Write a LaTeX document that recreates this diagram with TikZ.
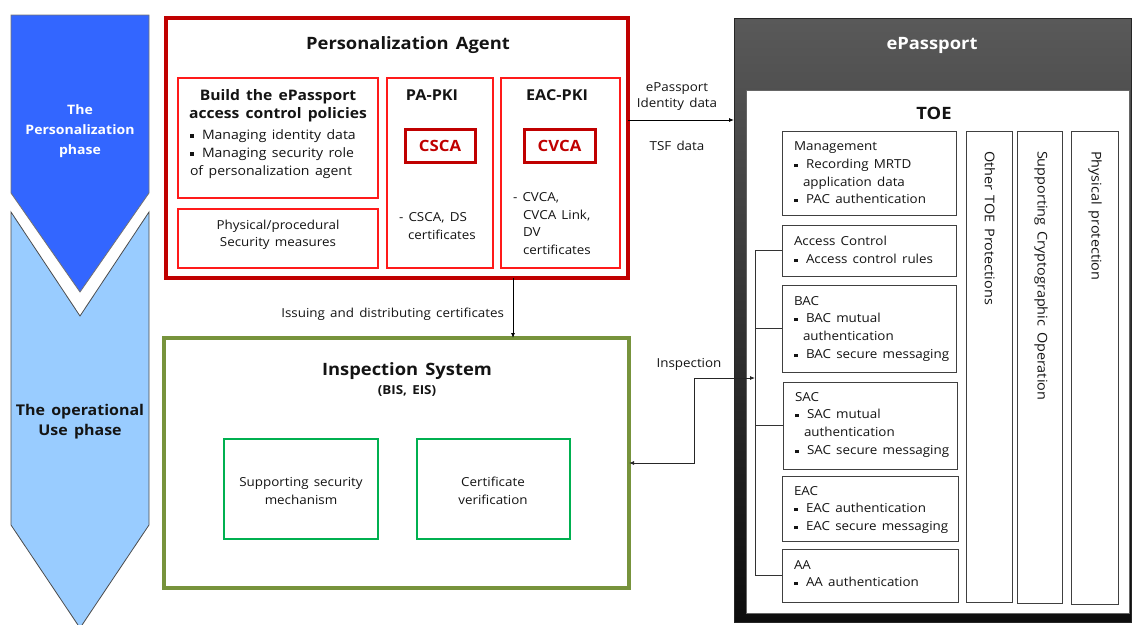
\documentclass[tikz,border=0pt]{standalone}
\usepackage{fontspec}
\setmainfont{Open Sans}[FakeStretch=1.08,WordSpace=1.5]
\usetikzlibrary{arrows.meta}
\definecolor{pared}{HTML}{C00000}
\definecolor{brred}{HTML}{FF1A1A}
\definecolor{olivegr}{HTML}{77933C}
\definecolor{ingreen}{HTML}{00B050}
\definecolor{dblue}{HTML}{3366FF}
\definecolor{lblue}{HTML}{99CCFF}
\definecolor{ink}{HTML}{141414}
\newcommand\bul{\makebox[12pt][l]{\rule[1.5pt]{3.5pt}{3.5pt}}}
\newcommand\bx[6]{\node[#2,anchor=north west,minimum width={#5-#3},minimum height={#6-#4}] (#1) at (#3,#4) {};}
\begin{document}
\begin{tikzpicture}[x=1pt,y=-1pt,
  every node/.style={inner sep=0pt,outer sep=0pt},
  t/.style={font=\fontsize{12.4}{14}\selectfont,text=ink,anchor=base west},
  tc/.style={font=\fontsize{12.4}{14}\selectfont,text=ink,anchor=base},
  tb/.style={font=\fontsize{15}{17}\selectfont\bfseries,text=ink,anchor=base},
  title/.style={font=\fontsize{17}{19}\selectfont\bfseries,text=ink,anchor=base},
  vt/.style={font=\fontsize{13.4}{15}\selectfont,text=ink,anchor=west,rotate=-90},
  pabox/.style={draw=pared,line width=4pt,fill=white},
  inred/.style={draw=brred,line width=2pt,fill=white},
  cabox/.style={draw=pared,line width=3pt,fill=white},
  isbox/.style={draw=olivegr,line width=4pt,fill=white},
  ingr/.style={draw=ingreen,line width=2pt,fill=white},
  toebox/.style={draw=black!75,line width=1pt,fill=white},
  arr/.style={draw=black,line width=0.8pt,-{Latex[length=5pt,width=4pt]}},
  arrboth/.style={draw=black!85,line width=0.8pt,{Latex[length=5pt,width=4pt]}-{Latex[length=5pt,width=4pt]}},
  brk/.style={draw=black!80,line width=0.9pt}
]
\useasboundingbox (0,0) rectangle (1132,624);
% phase chevrons
\path[draw=black!55,line width=0.8pt,fill=dblue] (11,15) -- (149,15) -- (149,193) -- (80,292) -- (11,193) -- cycle;
\path[draw=black!70,line width=0.8pt,fill=lblue] (11,212) -- (80,316) -- (149,212) -- (149,525) -- (80,628) -- (11,525) -- cycle;
\node[tb,text=white,font=\fontsize{13}{15}\selectfont\bfseries] (ph1a) at (80,114) {The};
\node[tb,text=white,font=\fontsize{13}{15}\selectfont\bfseries] (ph1b) at (80,134) {Personalization};
\node[tb,text=white,font=\fontsize{13}{15}\selectfont\bfseries] (ph1c) at (80,154) {phase};
\node[tb,font=\fontsize{14.8}{16}\selectfont\bfseries] (ph2a) at (80,415.5) {The operational};
\node[tb,font=\fontsize{14.8}{16}\selectfont\bfseries] (ph2b) at (80,435.5) {Use phase};

% Personalization Agent
\bx{pa}{pabox}{166}{18}{628}{278}
\node[title] (patitle) at (408,49.5) {Personalization Agent};
\bx{build}{inred}{178}{78}{378}{198}
\bx{phys}{inred}{178}{209}{378}{268}
\bx{papki}{inred}{387}{78}{493}{268}
\bx{eacpki}{inred}{501}{78}{620}{268}
\bx{csca}{cabox}{405}{129}{475}{162}
\bx{cvca}{cabox}{524}{129}{595}{162}
\node[tb,font=\fontsize{14.5}{17}\selectfont\bfseries] (bl1) at (278,100.5) {Build the ePassport};
\node[tb,font=\fontsize{14.5}{17}\selectfont\bfseries] (bl2) at (278,118.5) {access control policies};
\node[t,font=\fontsize{13}{15}\selectfont] (bl3) at (190,139) {\bul Managing identity data};
\node[t,font=\fontsize{13}{15}\selectfont] (bl4) at (190,157) {\bul Managing security role};
\node[t,font=\fontsize{13}{15}\selectfont] (bl5) at (190,175) {of personalization agent};
\node[tc] (ph1) at (278,229.5) {Physical/procedural};
\node[tc] (ph2) at (278,246.5) {Security measures};
\node[tb] (papkit) at (432,100.5) {PA-PKI};
\node[tb] (eacpkit) at (557,100.5) {EAC-PKI};
\node[tb,font=\fontsize{15.5}{17}\selectfont\bfseries,text=pared,anchor=center] (cscat) at (csca.center) {CSCA};
\node[tb,font=\fontsize{15.5}{17}\selectfont\bfseries,text=pared,anchor=center] (cvcat) at (cvca.center) {CVCA};
\node[t] (pp1) at (399,221.5) {- CSCA, DS};
\node[t] (pp2) at (408,239) {certificates};
\node[t] (ep1) at (513,201.5) {- CVCA,};
\node[t] (ep2) at (523,219) {CVCA Link,};
\node[t] (ep3) at (523,236.5) {DV};
\node[t] (ep4) at (523,254.5) {certificates};

% Inspection system
\bx{is}{isbox}{164}{338}{629}{588}
\node[title] (istitle) at (407,375.5) {Inspection System};
\node[tb,font=\fontsize{12.4}{14}\selectfont\bfseries] (issub) at (407,394) {(BIS, EIS)};
\bx{ssm}{ingr}{224}{439}{378}{539}
\bx{cv}{ingr}{417}{439}{570}{539}
\node[tc] (ssm1) at (301,486.5) {Supporting security};
\node[tc] (ssm2) at (301,504.5) {mechanism};
\node[tc] (cv1) at (493,486.5) {Certificate};
\node[tc] (cv2) at (493,504.5) {verification};

% ePassport
\bx{epass}{draw=black!85,line width=1pt,top color=black!65,bottom color=black!95}{734}{18}{1131}{622}
\node[title,text=white] (eptitle) at (932,49.5) {ePassport};
\bx{toe}{draw=black!60,line width=1pt,fill=white}{746}{90}{1129}{613}
\node[title] (toetitle) at (934,119) {TOE};
\bx{mgmt}{toebox}{782}{131}{956}{215}
\bx{ac}{toebox}{782}{225}{956}{276}
\bx{bac}{toebox}{782}{285}{956}{372}
\bx{sac}{toebox}{783}{382}{957}{469}
\bx{eac}{toebox}{782}{476}{958}{541}
\bx{aa}{toebox}{782}{549}{958}{602}
\bx{other}{toebox}{966}{131}{1012}{602}
\bx{crypto}{toebox}{1017}{131}{1062}{603}
\bx{physp}{toebox}{1071}{131}{1118}{604}
\node[t] (m1) at (794,150.5) {Management};
\node[t] (m2) at (794,168.5) {\bul Recording MRTD};
\node[t] (m3) at (803,186.5) {application data};
\node[t] (m4) at (794,203.5) {\bul PAC authentication};
\node[t] (a1) at (794,245.5) {Access Control};
\node[t] (a2) at (794,263.5) {\bul Access control rules};
\node[t] (b1) at (794,305.5) {BAC};
\node[t] (b2) at (794,322.5) {\bul BAC mutual};
\node[t] (b3) at (803,340.5) {authentication};
\node[t] (b4) at (794,358.5) {\bul BAC secure messaging};
\node[t] (s1) at (795,401.5) {SAC};
\node[t] (s2) at (795,418.5) {\bul SAC mutual};
\node[t] (s3) at (804,436.5) {authentication};
\node[t] (s4) at (795,454.5) {\bul SAC secure messaging};
\node[t] (e1) at (794,495.5) {EAC};
\node[t] (e2) at (794,512.5) {\bul EAC authentication};
\node[t] (e3) at (794,530.5) {\bul EAC secure messaging};
\node[t] (aa1) at (794,569.5) {AA};
\node[t] (aa2) at (794,586.5) {\bul AA authentication};
\node[vt] (othert) at (990,151) {Other TOE Protections};
\node[vt] (cryptot) at (1041,151) {Supporting Cryptographic Operation};
\node[vt] (physt) at (1095,151) {Physical protection};

% bracket
\coordinate (bkx) at (755,250);
\draw[brk] (ac.west) -- (ac.west -| bkx) -- (aa.west -| bkx) -- (aa.west);
\draw[brk] (bac.west) -- (bac.west -| bkx);
\draw[brk] (sac.west) -- (sac.west -| bkx);
\coordinate (insp) at (755,378);
\coordinate (ibend) at (694,378);

% connectors
\draw[arr] ([yshift=-102pt]pa.north east) coordinate (c1) -- (c1 -| epass.west);
\node[tc] (lb1) at (677,91.5) {ePassport};
\node[tc] (lb2) at (677,107.5) {Identity data};
\node[tc] (lb3) at (677,150.5) {TSF data};
\draw[arr] ([xshift=-115pt]pa.south east) coordinate (c2) -- (c2 |- is.north);
\node[t,anchor=base east] (lb4) at (504,317.5) {Issuing and distributing certificates};
\draw[arrboth] (insp) -- (ibend) |- (is.east);
\node[tc] (lb5) at (689,367.5) {Inspection};
\end{tikzpicture}
\end{document}
